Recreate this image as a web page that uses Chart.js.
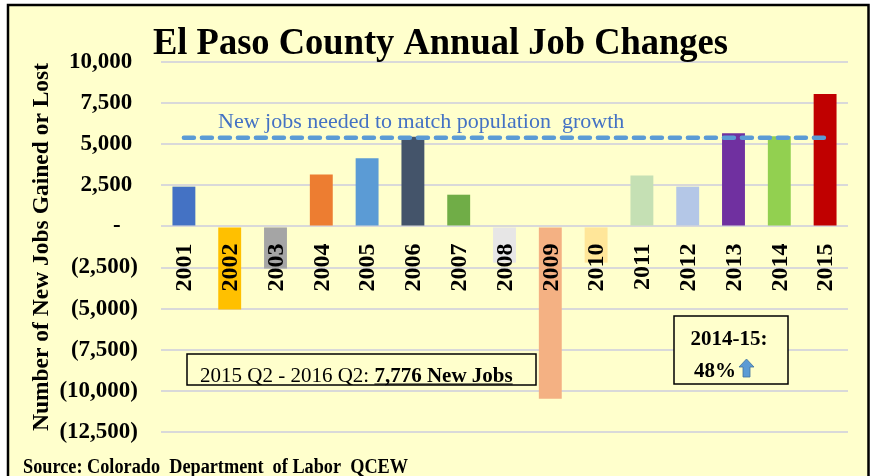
<!DOCTYPE html>
<html>
<head>
<meta charset="utf-8">
<title>El Paso County Annual Job Changes</title>
<script src="https://cdn.jsdelivr.net/npm/chart.js@4.4.1/dist/chart.umd.min.js"></script>
<style>
  html, body { margin: 0; padding: 0; background: #fff; }
  #wrap { width: 872px; height: 476px; }
</style>
</head>
<body>
<div id="wrap"><canvas id="jobChart" width="872" height="476"></canvas></div>
<script>
// data
var years = ['2001', '2002', '2003', '2004', '2005', '2006', '2007', '2008',
             '2009', '2010', '2011', '2012', '2013', '2014', '2015'];
var jobChanges = [2420, -5050, -2560, 3160, 4140, 5460, 1930, -2200,
                  -10480, -2200, 3100, 2420, 5660, 5480, 8050];
var barColors = ['#4472C4', '#FFC000', '#A5A5A5', '#ED7D31', '#5B9BD5', '#44546A', '#70AD47', '#E7E6E6',
                 '#F4B183', '#FFE699', '#C5E0B4', '#B4C7E7', '#7030A0', '#92D050', '#C00000'];
var jobsNeeded = [5400, 5400, 5400, 5400, 5400, 5400, 5400, 5400,
                  5400, 5400, 5400, 5400, 5400, 5400, 5400];
var yMin = -12500, yMax = 10000, yStep = 2500;

var SERIF = '"Liberation Serif", "Times New Roman", serif';
var BG = '#FFFFCC';

function fmtNum(v) {
  return Math.abs(v).toString().replace(/\B(?=(\d{3})+(?!\d))/g, ',');
}

// text squeezed to a given width (the original fonts are a bit narrow)
function fitText(ctx, text, x, y, font, width) {
  ctx.save();
  ctx.font = font;
  var w = ctx.measureText(text).width;
  ctx.translate(x, y);
  ctx.scale(width / w, 1);
  ctx.fillText(text, 0, 0);
  ctx.restore();
}

var decor = {
  id: 'decor',
  beforeDraw: function(chart) {
    var ctx = chart.ctx;
    ctx.save();
    ctx.fillStyle = '#fff';
    ctx.fillRect(0, 0, chart.width, chart.height);
    ctx.fillStyle = BG;
    ctx.fillRect(8, 5, 861, 520);
    ctx.strokeStyle = '#000';
    ctx.lineWidth = 2.5;
    ctx.strokeRect(8, 5, 860.5, 520);
    ctx.restore();
  },
  afterDatasetsDraw: function(chart) {
    var ctx = chart.ctx;
    var xs = chart.scales.x, ys = chart.scales.y;
    var zeroY = ys.getPixelForValue(0);
    ctx.save();

    // year labels just under the zero line
    ctx.fillStyle = '#000';
    ctx.font = 'bold 24px ' + SERIF;
    ctx.textAlign = 'right';
    ctx.textBaseline = 'middle';
    years.forEach(function(y, i) {
      ctx.save();
      ctx.translate(xs.getPixelForValue(i), zeroY + 17);
      ctx.rotate(-Math.PI / 2);
      ctx.fillText(y, 0, 1);
      ctx.restore();
    });

    // label of the dashed line
    ctx.textAlign = 'left';
    ctx.textBaseline = 'alphabetic';
    ctx.fillStyle = '#4472C4';
    ctx.font = '22px ' + SERIF;
    ctx.fillText('New jobs needed to match population  growth', 218, 128);

    // title
    ctx.fillStyle = '#000';
    fitText(ctx, 'El Paso County Annual Job Changes', 153, 54, 'bold 38px ' + SERIF, 575);

    // source
    fitText(ctx, 'Source: Colorado  Department  of Labor  QCEW', 23, 473, 'bold 20px ' + SERIF, 385);

    // box: 2015 Q2 - 2016 Q2
    ctx.fillStyle = BG;
    ctx.fillRect(187, 354, 349, 31);
    ctx.strokeStyle = '#000';
    ctx.lineWidth = 1.5;
    ctx.strokeRect(187, 354, 349, 31);
    ctx.fillStyle = '#000';
    ctx.font = '21px ' + SERIF;
    var part1 = '2015 Q2 - 2016 Q2: ';
    var bx = 200, by = 382;
    ctx.fillText(part1, bx, by);
    var w1 = ctx.measureText(part1).width;
    ctx.font = 'bold 21px ' + SERIF;
    var part2 = '7,776 New Jobs';
    ctx.fillText(part2, bx + w1, by);
    var w2 = ctx.measureText(part2).width;
    ctx.lineWidth = 1.2;
    ctx.beginPath();
    ctx.moveTo(bx + w1, by + 2);
    ctx.lineTo(bx + w1 + w2, by + 2);
    ctx.stroke();

    // box: 2014-15 growth
    ctx.fillStyle = BG;
    ctx.fillRect(674, 316, 114, 68);
    ctx.lineWidth = 1.5;
    ctx.strokeRect(674, 316, 114, 68);
    ctx.fillStyle = '#000';
    ctx.font = 'bold 21px ' + SERIF;
    ctx.textAlign = 'center';
    ctx.fillText('2014-15:', 729, 345);
    ctx.textAlign = 'left';
    ctx.fillText('48%', 694, 377);
    var ax = 694 + ctx.measureText('48%').width + 3;
    ctx.beginPath();
    ctx.moveTo(ax + 7.5, 359);
    ctx.lineTo(ax + 15, 367);
    ctx.lineTo(ax + 11, 367);
    ctx.lineTo(ax + 11, 377);
    ctx.lineTo(ax + 4, 377);
    ctx.lineTo(ax + 4, 367);
    ctx.lineTo(ax, 367);
    ctx.closePath();
    ctx.fillStyle = '#5B9BD5';
    ctx.fill();
    ctx.strokeStyle = '#41719C';
    ctx.lineWidth = 0.8;
    ctx.stroke();

    ctx.restore();
  }
};

var chart = new Chart(document.getElementById('jobChart'), {
  type: 'bar',
  data: {
    labels: years,
    datasets: [
      {
        type: 'line',
        label: 'New jobs needed',
        data: jobsNeeded,
        borderColor: '#5B9BD5',
        borderWidth: 4.5,
        borderDash: [10, 8],
        borderCapStyle: 'round',
        pointRadius: 0,
        fill: false,
        order: 0
      },
      {
        label: 'Jobs gained or lost',
        data: jobChanges,
        backgroundColor: barColors,
        borderWidth: 0,
        categoryPercentage: 1,
        barPercentage: 0.5,
        order: 1
      }
    ]
  },
  options: {
    responsive: false,
    devicePixelRatio: 1,
    animation: false,
    layout: { padding: { top: 62, bottom: 44, left: 0, right: 24 } },
    plugins: {
      legend: { display: false },
      tooltip: { enabled: false },
      title: { display: false }
    },
    scales: {
      x: { display: false },
      y: {
        min: yMin,
        max: yMax,
        border: { display: false },
        grid: { color: '#D9D9D9', lineWidth: 2, drawTicks: false },
        ticks: {
          stepSize: yStep,
          padding: 23,
          color: '#000',
          font: { family: SERIF, size: 23, weight: 'bold' },
          callback: function(v) {
            if (v === 0) return '-   ';
            if (v < 0) return '(' + fmtNum(v) + ')';
            return fmtNum(v) + ' ';
          }
        },
        title: {
          display: true,
          text: 'Number of New Jobs Gained or Lost',
          color: '#000',
          font: { family: SERIF, size: 23.5, weight: 'bold' },
          padding: { top: 28, bottom: 0 }
        },
        afterFit: function(scale) { scale.width = 161; }
      }
    }
  },
  plugins: [decor]
});
</script>
</body>
</html>
